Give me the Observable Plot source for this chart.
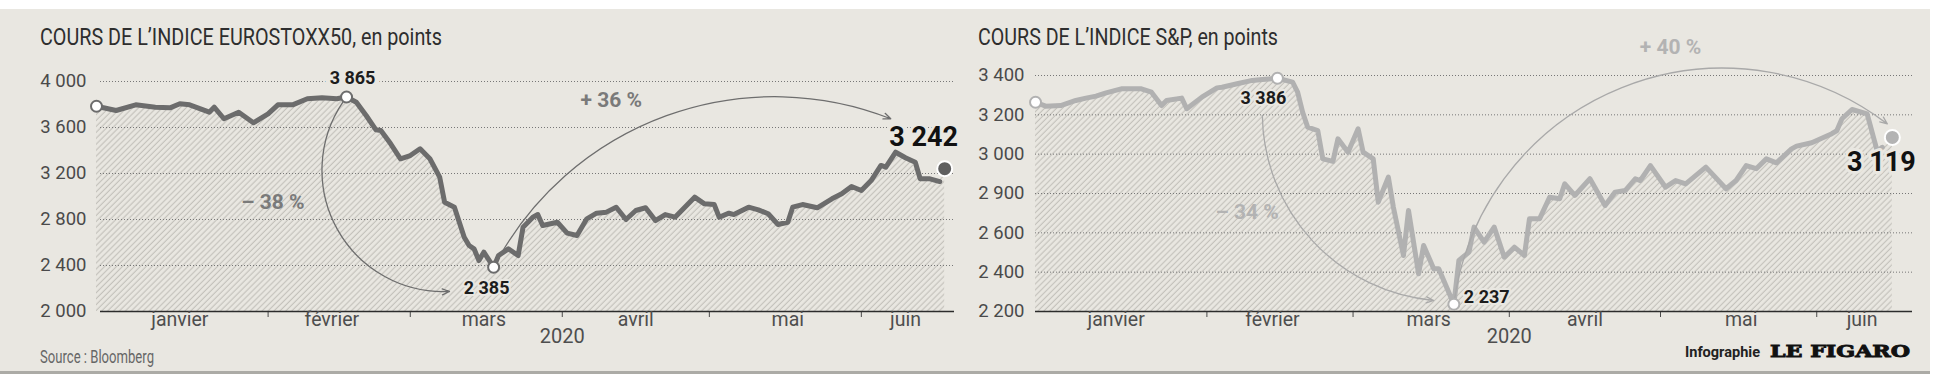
<!DOCTYPE html>
<html lang="fr">
<head>
<meta charset="utf-8">
<script src="https://cdn.jsdelivr.net/npm/d3@7"></script>
<script src="https://cdn.jsdelivr.net/npm/@observablehq/plot@0.6"></script>
<style>
  html, body { margin: 0; padding: 0; background: #ffffff; }
  body { width: 1946px; height: 386px; position: relative; overflow: hidden; }
  #bg { position: absolute; left: 0; top: 9px; width: 1930px; height: 362px; background: #e9e7e1; border-bottom: 3px solid #acaba6; }
  .chart { position: absolute; top: 0; }
  .chart svg { display: block; }
  #overlay { position: absolute; left: 0; top: 0; pointer-events: none; }
</style>
</head>
<body>
<div id="bg"></div>
<div id="left" class="chart" style="left:0px"></div>
<div id="right" class="chart" style="left:960px"></div>
<svg id="overlay" width="1946" height="386"></svg>
<script>
// ---------- DATA ----------
const xDomain = ["2019-12-28", "2020-06-20"];
const monthStarts = ["2020-02-01", "2020-03-01", "2020-04-01", "2020-05-01", "2020-06-01"];
const monthNames = ["janvier", "février", "mars", "avril", "mai", "juin"];
const monthLabelDates = ["2020-01-14", "2020-02-14", "2020-03-16", "2020-04-16", "2020-05-17", "2020-06-10"];
const yearLabel = "2020";
const yearLabelDate = "2020-04-01";

const titles = ["COURS DE L’INDICE EUROSTOXX50, en points", "COURS DE L’INDICE S&P, en points"];
const sourceText = "Source : Bloomberg";
const creditText = ["Infographie", "LE FIGARO"];

// EuroStoxx 50
const euroDates = ["2019-12-28","2020-01-01","2020-01-05","2020-01-09","2020-01-12","2020-01-14","2020-01-16","2020-01-20","2020-01-21","2020-01-23","2020-01-26","2020-01-29","2020-02-01","2020-02-03","2020-02-06","2020-02-09","2020-02-12","2020-02-15","2020-02-17","2020-02-19","2020-02-21","2020-02-23","2020-02-24","2020-02-26","2020-02-28","2020-03-01","2020-03-03","2020-03-05","2020-03-07","2020-03-08","2020-03-10","2020-03-12","2020-03-13","2020-03-14","2020-03-15","2020-03-16","2020-03-18","2020-03-19","2020-03-21","2020-03-23","2020-03-24","2020-03-26","2020-03-27","2020-03-28","2020-03-31","2020-04-02","2020-04-04","2020-04-06","2020-04-08","2020-04-10","2020-04-12","2020-04-14","2020-04-16","2020-04-18","2020-04-20","2020-04-22","2020-04-24","2020-04-26","2020-04-28","2020-04-30","2020-05-02","2020-05-03","2020-05-05","2020-05-06","2020-05-09","2020-05-11","2020-05-13","2020-05-15","2020-05-17","2020-05-18","2020-05-20","2020-05-23","2020-05-26","2020-05-28","2020-05-30","2020-06-01","2020-06-03","2020-06-05","2020-06-06","2020-06-08","2020-06-10","2020-06-12","2020-06-13","2020-06-15","2020-06-17"];
const euroValues = [3785,3748,3797,3777,3771,3806,3797,3733,3777,3676,3733,3641,3719,3797,3797,3850,3858,3850,3865,3820,3704,3580,3574,3458,3328,3356,3415,3328,3168,2950,2907,2646,2574,2545,2443,2516,2385,2487,2545,2487,2733,2820,2843,2748,2776,2681,2661,2806,2855,2864,2907,2800,2878,2902,2791,2843,2820,2907,2994,2936,2930,2820,2855,2843,2907,2884,2850,2757,2776,2907,2930,2902,2980,3023,3087,3052,3139,3270,3255,3385,3337,3298,3154,3154,3130];
const euroEndDate = "2020-06-18";
const euroEndValue = 3242;
const euroPointLabels = ["3 865", "2 385", "3 242"];
const euroDomain = [2000, 4000];
const euroTicks = [2000, 2400, 2800, 3200, 3600, 4000];
const euroTickLabels = ["2 000", "2 400", "2 800", "3 200", "3 600", "4 000"];
const euroPctTexts = ["\u2013 38 %", "+ 36 %"];
const euroPctDates = ["2020-02-02", "2020-04-11"];
const euroPctValues = [2950, 3835];
const euroArrowFrom = [["2020-02-17", 3865], ["2020-03-18", 2385]];
const euroArrowTo = [["2020-03-09", 2174], ["2020-06-07", 3676]];

// S&P 500
const spDates = ["2019-12-29","2019-12-31","2020-01-03","2020-01-06","2020-01-08","2020-01-10","2020-01-12","2020-01-15","2020-01-19","2020-01-21","2020-01-23","2020-01-24","2020-01-27","2020-01-28","2020-01-31","2020-02-03","2020-02-04","2020-02-07","2020-02-10","2020-02-12","2020-02-15","2020-02-18","2020-02-19","2020-02-20","2020-02-21","2020-02-23","2020-02-24","2020-02-26","2020-02-27","2020-02-29","2020-03-02","2020-03-03","2020-03-05","2020-03-06","2020-03-08","2020-03-09","2020-03-11","2020-03-12","2020-03-14","2020-03-15","2020-03-17","2020-03-18","2020-03-21","2020-03-22","2020-03-24","2020-03-25","2020-03-27","2020-03-29","2020-03-31","2020-04-02","2020-04-04","2020-04-05","2020-04-07","2020-04-09","2020-04-11","2020-04-12","2020-04-14","2020-04-17","2020-04-20","2020-04-22","2020-04-24","2020-04-26","2020-04-27","2020-04-29","2020-05-02","2020-05-04","2020-05-06","2020-05-10","2020-05-14","2020-05-16","2020-05-18","2020-05-20","2020-05-22","2020-05-24","2020-05-27","2020-05-28","2020-05-31","2020-06-04","2020-06-05","2020-06-06","2020-06-08","2020-06-11","2020-06-13","2020-06-14"];
const spValues = [3264,3244,3247,3273,3285,3295,3312,3332,3332,3315,3247,3273,3285,3231,3290,3337,3340,3358,3375,3380,3386,3366,3315,3213,3137,3120,2976,2963,3078,3010,3129,3010,2976,2756,2883,2730,2485,2714,2392,2536,2417,2417,2237,2460,2502,2629,2553,2629,2476,2527,2485,2671,2671,2781,2773,2849,2790,2875,2739,2807,2815,2875,2866,2942,2832,2866,2849,2934,2824,2866,2942,2926,2976,2956,3027,3041,3058,3104,3120,3180,3227,3205,3015,3035];
const spEndDate = "2020-06-16";
const spEndValue = 3085;
const spPointLabels = ["3 386", "2 237", "3 119"];
const spDomain = [2200, 3400];
const spTicks = [2200, 2400, 2600, 2800, 3000, 3200, 3400];
const spTickLabels = ["2 200", "2 400", "2 600", "2 900", "3 000", "3 200", "3 400"];
const spPctTexts = ["\u2013 34 %", "+ 40 %"];
const spPctDates = ["2020-02-09", "2020-05-03"];
const spPctValues = [2703, 3542];
const spArrowFrom = [["2020-02-12", 3197], ["2020-03-21", 2237]];
const spArrowTo = [["2020-03-17", 2256], ["2020-06-15", 3154]];

// ---------- RENDER ----------
const parseDate = d3.utcParse("%Y-%m-%d");
const BG = "#e9e7e1";
const FONT = "Roboto, 'Noto Sans', sans-serif";

function buildChart(cfg, st) {
  const data = cfg.dates.map((d, i) => ({date: parseDate(d), value: cfg.values[i]}));
  const end = {date: parseDate(cfg.endDate), value: cfg.endValue};
  const first = data[0];
  const peak = data[d3.maxIndex(data, d => d.value)];
  const trough = data[d3.minIndex(data, d => d.value)];
  const tickText = new Map(cfg.ticks.map((t, i) => [t, cfg.tickLabels[i]]));
  const arrows = cfg.arrowFrom.map((f, i) => ({x1: parseDate(f[0]), y1: f[1], x2: parseDate(cfg.arrowTo[i][0]), y2: cfg.arrowTo[i][1]}));
  const pcts = cfg.pctTexts.map((t, i) => ({text: t, date: parseDate(cfg.pctDates[i]), value: cfg.pctValues[i]}));
  const months = monthNames.map((m, i) => ({text: m, date: parseDate(monthLabelDates[i])}));
  const hatchId = cfg.id + "-hatch";
  const labelOpts = {x: "date", y: "value", fontWeight: "bold", fill: "#1c1c1c", stroke: BG, paintOrder: "stroke", strokeLinejoin: "round"};

  const svg = Plot.plot({
    width: 960,
    height: 386,
    marginLeft: st.marginLeft,
    marginRight: st.marginRight,
    marginTop: st.marginTop,
    marginBottom: 75,
    style: {background: "transparent", fontFamily: FONT, fontSize: "18.5px", color: "#4a4a4a", overflow: "visible"},
    x: {type: "utc", domain: xDomain.map(parseDate), ticks: monthStarts.map(parseDate), tickFormat: () => "", tickSize: 6, label: null},
    y: {domain: cfg.domain, ticks: cfg.ticks, tickFormat: d => tickText.get(d), tickSize: 0, tickPadding: st.tickPadding, label: null},
    marks: [
      Plot.areaY(data.concat([end]), {x: "date", y1: cfg.domain[0], y2: "value", fill: `url(#${hatchId})`}),
      Plot.ruleY(cfg.ticks.filter(t => t > cfg.domain[0]), {stroke: "#777", strokeWidth: 1, strokeDasharray: "1 2", insetLeft: st.inset}),
      Plot.ruleY([cfg.domain[0]], {stroke: "#2c2c2c", strokeWidth: 1.6, insetLeft: st.inset}),
      Plot.line(data, {x: "date", y: "value", stroke: st.line, strokeWidth: 5, strokeLinejoin: "round", strokeLinecap: "round"}),
      Plot.arrow([arrows[0]], {x1: "x1", y1: "y1", x2: "x2", y2: "y2", bend: st.bends[0], insetStart: st.arrowInsets[0], stroke: st.arrow, strokeWidth: 1.3, headLength: 9, headAngle: 45}),
      Plot.arrow([arrows[1]], {x1: "x1", y1: "y1", x2: "x2", y2: "y2", bend: st.bends[1], insetStart: st.arrowInsets[1], stroke: st.arrow, strokeWidth: 1.3, headLength: 9, headAngle: 45}),
      Plot.dot([first, peak, trough], {x: "date", y: "value", r: 5.5, fill: "white", stroke: st.line, strokeWidth: 2}),
      Plot.dot([end], {x: "date", y: "value", r: 7.5, fill: st.endFill, stroke: "white", strokeWidth: 2}),
      Plot.text([peak], {...labelOpts, text: () => cfg.pointLabels[0], dx: st.peakLabel[0], dy: st.peakLabel[1], fontSize: 18, strokeWidth: st.peakLabel[2], textAnchor: "middle"}),
      Plot.text([trough], {...labelOpts, text: () => cfg.pointLabels[1], dx: st.troughLabel[0], dy: st.troughLabel[1], fontSize: 18, strokeWidth: 4, textAnchor: st.troughLabel[2]}),
      Plot.text([end], {...labelOpts, text: () => cfg.pointLabels[2], dx: st.endLabel[0], dy: st.endLabel[1], fontSize: 27, fill: "#111", strokeWidth: 6, textAnchor: "middle"}),
      Plot.text(pcts, {x: "date", y: "value", text: "text", fontSize: 21, fontWeight: "bold", fill: st.pct}),
      Plot.text(months, {x: "date", text: "text", frameAnchor: "bottom", dy: 14, fontSize: 19.5, fill: "#4e4e4e"}),
      Plot.text([yearLabel], {x: () => parseDate(yearLabelDate), text: d => d, frameAnchor: "bottom", dy: 31, fontSize: 20, fill: "#4e4e4e"})
    ]
  });

  const defs = d3.select(svg).insert("defs", ":first-child");
  const pat = defs.append("pattern")
    .attr("id", hatchId)
    .attr("patternUnits", "userSpaceOnUse")
    .attr("width", 4.2).attr("height", 4.2)
    .attr("patternTransform", "rotate(45)");
  pat.append("line").attr("x1", 2).attr("y1", -1).attr("x2", 2).attr("y2", 5.2)
    .attr("stroke", "#c4c2bc").attr("stroke-width", 1.2);
  return svg;
}

document.getElementById("left").appendChild(buildChart({
  id: "euro", dates: euroDates, values: euroValues, endDate: euroEndDate, endValue: euroEndValue,
  pointLabels: euroPointLabels, domain: euroDomain, ticks: euroTicks, tickLabels: euroTickLabels,
  pctTexts: euroPctTexts, pctDates: euroPctDates, pctValues: euroPctValues,
  arrowFrom: euroArrowFrom, arrowTo: euroArrowTo
}, {
  marginLeft: 96, marginRight: 6, marginTop: 81, tickPadding: 10, inset: 4,
  line: "#6c6c6c", arrow: "#6e6e6e", endFill: "#5f5f5f", pct: "#7a7a7a",
  bends: [-65, 42], arrowInsets: [6, 6],
  peakLabel: [6, -19, 10], troughLabel: [-7, 21, "middle"], endLabel: [-21, -31]
}));

document.getElementById("right").appendChild(buildChart({
  id: "sp", dates: spDates, values: spValues, endDate: spEndDate, endValue: spEndValue,
  pointLabels: spPointLabels, domain: spDomain, ticks: spTicks, tickLabels: spTickLabels,
  pctTexts: spPctTexts, pctDates: spPctDates, pctValues: spPctValues,
  arrowFrom: spArrowFrom, arrowTo: spArrowTo
}, {
  marginLeft: 70, marginRight: 8, marginTop: 75, tickPadding: 6, inset: 5,
  line: "#b1b1b1", arrow: "#a9a9a9", endFill: "#b3b3b3", pct: "#b3b3b3",
  bends: [-42, 60], arrowInsets: [0, 6],
  peakLabel: [-14, 20, 4], troughLabel: [10, -7, "start"], endLabel: [-11, 25]
}));

// titles, source, credit
const overlay = d3.select("#overlay");
const overlayTexts = [
  {text: titles[0], x: 40, y: 45, size: 24, len: 402, fill: "#2e2e2e", weight: "normal", family: FONT, stroke: 0},
  {text: titles[1], x: 978, y: 45, size: 24, len: 300, fill: "#2e2e2e", weight: "normal", family: FONT, stroke: 0},
  {text: sourceText, x: 40, y: 363, size: 17.5, len: 114, fill: "#666", weight: "normal", family: FONT, stroke: 0},
  {text: creditText[0], x: 1685, y: 357, size: 14.5, len: 75, fill: "#222", weight: "bold", family: FONT, stroke: 0},
  {text: creditText[1], x: 1770, y: 357, size: 17, len: 140, fill: "#111", weight: "bold", family: "'DejaVu Serif', serif", stroke: 0.9}
];
overlay.selectAll("text").data(overlayTexts).join("text")
  .attr("x", d => d.x).attr("y", d => d.y)
  .attr("font-size", d => d.size).attr("font-weight", d => d.weight)
  .attr("font-family", d => d.family).attr("fill", d => d.fill)
  .attr("stroke", d => d.stroke ? d.fill : null).attr("stroke-width", d => d.stroke || null)
  .attr("textLength", d => d.len).attr("lengthAdjust", "spacingAndGlyphs")
  .text(d => d.text);
</script>
</body>
</html>
